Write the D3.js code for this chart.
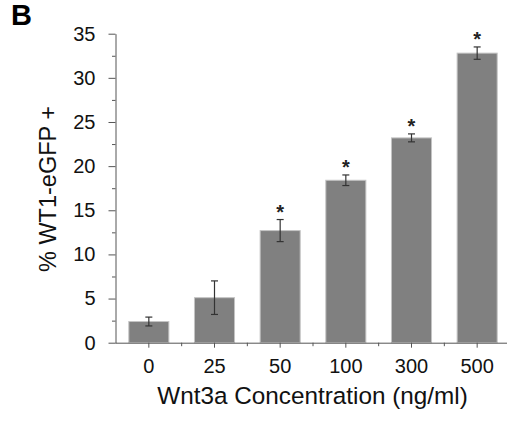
<!DOCTYPE html>
<html>
<head>
<meta charset="utf-8">
<script src="https://cdn.jsdelivr.net/npm/d3@7"></script>
<style>
  body { margin: 0; background: #fff; }
  svg { display: block; font-family: "Liberation Sans", Arial, sans-serif; }
</style>
</head>
<body>
<svg id="chart" width="507" height="423"></svg>
<script>
// data
var concentrations = ["0", "25", "50", "100", "300", "500"];
var percentWT1 = [2.4, 5.1, 12.7, 18.4, 23.2, 32.8];
var errorSize = [0.5, 1.9, 1.25, 0.6, 0.45, 0.7];
var significant = [false, false, true, true, true, true];
var yTicks = [0, 5, 10, 15, 20, 25, 30, 35];
var yMinorTicks = [2.5, 7.5, 12.5, 17.5, 22.5, 27.5, 32.5];

var svg = d3.select("#chart");

// scales
var x = d3.scaleBand()
    .domain(concentrations)
    .range([116, 510])
    .paddingInner(0.39)
    .paddingOuter(0.195);

var y = d3.scaleLinear()
    .domain([0, 35])
    .range([342.7, 33.7]);

var axisColor = "#555";

// bars
svg.selectAll(".bar")
    .data(concentrations)
    .enter()
    .append("rect")
        .attr("class", "bar")
        .attr("x", function(d) { return x(d); })
        .attr("y", function(d, i) { return y(percentWT1[i]); })
        .attr("width", x.bandwidth())
        .attr("height", function(d, i) { return y(0) - y(percentWT1[i]); })
        .attr("fill", "#808080")
        .attr("stroke", "#c4c4c4")
        .attr("stroke-width", 1);

// error bars + significance stars
concentrations.forEach(function(c, i) {
    var cx = x(c) + x.bandwidth() / 2;
    var top = y(percentWT1[i] + errorSize[i]);
    var bot = y(percentWT1[i] - errorSize[i]);
    var g = svg.append("g").attr("stroke", "#333").attr("stroke-width", 1.2);
    g.append("line").attr("x1", cx).attr("x2", cx).attr("y1", top).attr("y2", bot);
    g.append("line").attr("x1", cx - 3.5).attr("x2", cx + 3.5).attr("y1", top).attr("y2", top);
    g.append("line").attr("x1", cx - 3.5).attr("x2", cx + 3.5).attr("y1", bot).attr("y2", bot);

    if (significant[i]) {
        svg.append("text")
            .attr("x", cx)
            .attr("y", top - 0.5)
            .attr("text-anchor", "middle")
            .attr("font-size", 20)
            .attr("font-weight", "bold")
            .attr("fill", "#222")
            .text("*");
    }
});

// y axis
svg.append("g")
    .attr("transform", "translate(115.5,0)")
    .call(d3.axisLeft(y).tickValues(yTicks).tickSize(7).tickSizeOuter(0).tickPadding(13));

svg.append("g")
    .attr("transform", "translate(115.5,0)")
    .call(d3.axisLeft(y).tickValues(yMinorTicks).tickSize(3.5).tickFormat(""))
    .select(".domain").remove();

// x axis
var xAxis = svg.append("g")
    .attr("transform", "translate(0," + y(0) + ")")
    .call(d3.axisBottom(x).tickSize(5).tickSizeOuter(0).tickPadding(11));

xAxis.select(".domain").attr("d", "M115.5,0.5H507");

// boundary ticks between categories
var boundaries = concentrations.slice(1).map(function(c) { return x(c) - x.step() * x.paddingInner() / 2; });
svg.selectAll(".btick")
    .data(boundaries)
    .enter()
    .append("line")
        .attr("x1", function(d) { return d; })
        .attr("x2", function(d) { return d; })
        .attr("y1", y(0))
        .attr("y2", y(0) + 3.5)
        .attr("stroke", axisColor);

svg.selectAll(".domain, .tick line").attr("stroke", axisColor);
svg.selectAll(".tick text")
    .attr("font-size", 20)
    .attr("fill", "#111")
    .attr("font-family", "'Liberation Sans', Arial, sans-serif");

// axis titles
svg.append("text")
    .attr("transform", "translate(56,189) rotate(-90)")
    .attr("text-anchor", "middle")
    .attr("font-size", 23.5)
    .attr("fill", "#111")
    .text("% WT1-eGFP +");

svg.append("text")
    .attr("x", 312.5)
    .attr("y", 404)
    .attr("text-anchor", "middle")
    .attr("font-size", 24.3)
    .attr("fill", "#111")
    .text("Wnt3a Concentration (ng/ml)");

// panel letter
svg.append("text")
    .attr("x", 11)
    .attr("y", 25)
    .attr("font-size", 29)
    .attr("font-weight", "bold")
    .attr("fill", "#000")
    .text("B");
</script>
</body>
</html>
